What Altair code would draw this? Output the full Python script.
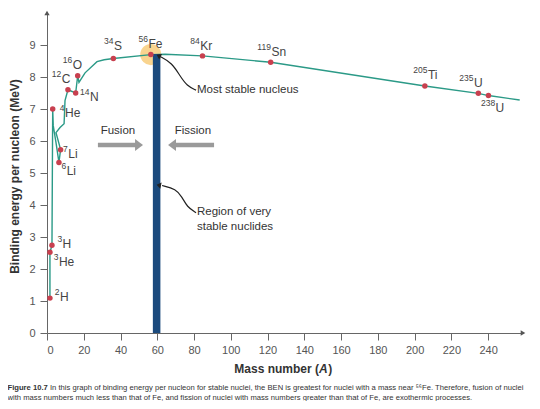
import altair as alt
import pandas as pd

FONT = "Liberation Sans"

# ---- data ----
curve_mass = [1.6, 1.6, 2.7, 3.1, 3.4, 4.9, 6.5, 7.4, 4.9, 7.1, 9.3, 9.8, 11.4, 15.6, 16.7, 17.4,
              20.7, 27.2, 31.1, 36.1, 56.5, 64.3, 84.6, 121.7, 205.6, 234.7, 240.2, 257.2]
curve_ben = [1.09, 2.52, 2.74, 7.00, 6.48, 5.95, 5.33, 5.73, 6.26, 6.42, 6.54, 7.26, 7.60, 7.50, 8.04, 7.83,
             8.13, 8.48, 8.54, 8.58, 8.70, 8.71, 8.66, 8.46, 7.72, 7.49, 7.42, 7.28]

nuc_sup = ["2", "3", "3", "4", "6", "7", "12", "14", "16", "34", "56", "84", "119", "205", "235", "238"]
nuc_el = ["H", "He", "H", "He", "Li", "Li", "C", "N", "O", "S", "Fe", "Kr", "Sn", "Ti", "U", "U"]
nuc_mass = [1.6, 1.6, 2.7, 3.1, 6.5, 7.4, 11.4, 15.6, 16.7, 36.1, 56.5, 84.6, 121.7, 205.6, 234.7, 240.2]
nuc_ben = [1.09, 2.52, 2.74, 7.00, 5.33, 5.73, 7.60, 7.50, 8.04, 8.58, 8.70, 8.66, 8.46, 7.72, 7.49, 7.42]

# label anchors (left edge of element symbol), in data units
lab_x = [7.1, 6.5, 8.5, 9.8, 10.7, 11.6, 8.0, 23.4, 14.0, 36.5, 55.2, 83.4, 122.1, 207.3, 232.3, 244.1]
lab_y = [1.12, 2.21, 2.77, 6.86, 5.05, 5.58, 7.95, 7.36, 8.39, 8.98, 9.04, 8.98, 8.79, 8.07, 7.82, 7.04]

region_lo, region_hi, region_top = 57.6, 61.7, 8.72
fe_mass, fe_ben = 56.5, 8.70

x_ticks = list(range(0, 241, 20))
y_ticks = list(range(0, 10))

# annotation arrows (data units)
stable_x = [81.1, 76.2, 72.4, 68.0, 61.5]
stable_y = [7.59, 7.72, 8.03, 8.44, 8.64]
region_x = [81.1, 76.2, 73.5, 70.2, 62.6]
region_y = [3.76, 3.94, 4.25, 4.50, 4.61]

XMAX, YMAX = 259, 10

xs = alt.Scale(domain=[0, XMAX], nice=False, zero=False)
ys = alt.Scale(domain=[0, YMAX], nice=False, zero=False)

curve = pd.DataFrame({"m": curve_mass, "b": curve_ben, "i": range(len(curve_mass))})
nuc = pd.DataFrame({"m": nuc_mass, "b": nuc_ben, "sup": nuc_sup, "el": nuc_el,
                    "lx": lab_x, "ly": lab_y})

AX_X = alt.Axis(values=x_ticks, title=None, grid=False, labelOverlap=False)
AX_Y = alt.Axis(values=y_ticks, title="Binding energy per nucleon (MeV)", grid=False,
                labelOverlap=False, titleX=-33, titleY=163, titleBaseline="middle", titleAngle=-90)


def X(f):
    return alt.X(f, scale=xs, axis=AX_X)


def Y(f):
    return alt.Y(f, scale=ys, axis=AX_Y)


glow = alt.Chart(pd.DataFrame({"m": [fe_mass], "b": [fe_ben]})).mark_circle(
    size=450, color="#f7c56a", opacity=0.75).encode(x=X("m:Q"), y=Y("b:Q"))

line = alt.Chart(curve).mark_line(color="#2b9a87", strokeWidth=1.4).encode(
    x=X("m:Q"), y=Y("b:Q"), order="i:Q")

bar = alt.Chart(pd.DataFrame({"lo": [region_lo], "hi": [region_hi], "top": [region_top]})).mark_rect(
    color="#1b4a7d").encode(x=X("lo:Q"), x2="hi:Q", y=Y("top:Q"), y2=alt.datum(0))

dots = alt.Chart(nuc).mark_circle(size=30, color="#c8404f", opacity=1).encode(x=X("m:Q"), y=Y("b:Q"))

el_text = alt.Chart(nuc).mark_text(align="left", baseline="middle", fontSize=12, font=FONT,
                                   color="#444444").encode(x=X("lx:Q"), y=Y("ly:Q"), text="el:N")
sup_text = alt.Chart(nuc).mark_text(align="right", baseline="middle", fontSize=8.5, font=FONT,
                                    color="#444444", dy=-5, dx=-0.5).encode(
    x=X("lx:Q"), y=Y("ly:Q"), text="sup:N")

# axis arrowheads
ax_arrows = alt.Chart(pd.DataFrame({"m": [XMAX, 0], "b": [0, YMAX],
                                    "s": ["triangle-right", "triangle-up"]})).mark_point(
    filled=True, size=28, color="#555555", opacity=1).encode(
    x=X("m:Q"), y=Y("b:Q"), shape=alt.Shape("s:N", scale=None))

# annotation curves
ann_df = pd.DataFrame({"m": stable_x + region_x, "b": stable_y + region_y,
                       "g": ["s"] * 5 + ["r"] * 5, "i": list(range(5)) * 2})
ann_lines = alt.Chart(ann_df).mark_line(color="#222222", strokeWidth=1.2, interpolate="basis").encode(
    x=X("m:Q"), y=Y("b:Q"), detail="g:N", order="i:Q")
heads = alt.Chart(pd.DataFrame({"m": [60.9, 61.0], "b": [8.66, 4.62], "a": [28, 12]})).mark_point(
    shape="M0.6,-1L-0.8,0L0.6,1Z", filled=True, size=40, color="#222222", opacity=1).encode(
    x=X("m:Q"), y=Y("b:Q"), angle=alt.Angle("a:Q", scale=None))

ann_left = alt.Chart(pd.DataFrame({
    "m": [81.6, 81.6, 81.6], "b": [7.59, 3.78, 3.31],
    "t": ["Most stable nucleus", "Region of very", "stable nuclides"]})).mark_text(
    align="left", baseline="middle", fontSize=11.5, font=FONT, color="#333333").encode(
    x=X("m:Q"), y=Y("b:Q"), text="t:N")
ann_center = alt.Chart(pd.DataFrame({
    "m": [38.6, 79.4], "b": [6.30, 6.30], "t": ["Fusion", "Fission"]})).mark_text(
    align="center", baseline="middle", fontSize=11.5, font=FONT, color="#333333").encode(
    x=X("m:Q"), y=Y("b:Q"), text="t:N")

# fusion / fission arrows
shaft_df = pd.DataFrame({"a": [27.7, 69.6], "c": [49.0, 90.9], "b": [5.875, 5.875]})
shafts = alt.Chart(shaft_df).mark_rule(color="#9a9a9a", strokeWidth=4.5).encode(
    x=X("a:Q"), x2="c:Q", y=Y("b:Q"))
big_heads = alt.Chart(pd.DataFrame({"m": [49.9, 68.2], "b": [5.875, 5.875], "a": [0, 180]})).mark_point(
    shape="M-0.6,-1L0.7,0L-0.6,1Z", filled=True, size=150, color="#9a9a9a", opacity=1).encode(
    x=X("m:Q"), y=Y("b:Q"), angle=alt.Angle("a:Q", scale=None))

# x-axis title with italic A
xt1 = alt.Chart(pd.DataFrame({"t": ["Mass number ("]})).mark_text(
    align="right", baseline="middle", fontSize=12, font=FONT, fontWeight="bold", color="#333333").encode(
    x=alt.value(272), y=alt.value(356), text="t:N")
xt2 = alt.Chart(pd.DataFrame({"t": ["A"]})).mark_text(
    align="left", baseline="middle", fontSize=12, font=FONT, fontWeight="bold", fontStyle="italic",
    color="#333333").encode(x=alt.value(272), y=alt.value(356), text="t:N")
xt3 = alt.Chart(pd.DataFrame({"t": [")"]})).mark_text(
    align="left", baseline="middle", fontSize=12, font=FONT, fontWeight="bold", color="#333333").encode(
    x=alt.value(281.2), y=alt.value(356), text="t:N")

# caption
CAP = 7.65
cap_bold = alt.Chart(pd.DataFrame({"t": ["Figure 10.7"]})).mark_text(
    align="left", baseline="middle", fontSize=CAP, font=FONT, color="#333333", fontWeight="bold").encode(
    x=alt.value(-39.5), y=alt.value(374.5), text="t:N")
cap_rest = alt.Chart(pd.DataFrame({
    "px": [3, -39.5], "py": [374.5, 384.5],
    "t": ["In this graph of binding energy per nucleon for stable nuclei, the BEN is greatest for nuclei with a mass near \u2075\u2076Fe. Therefore, fusion of nuclei",
          "with mass numbers much less than that of Fe, and fission of nuclei with mass numbers greater than that of Fe, are exothermic processes."]})).mark_text(
    align="left", baseline="middle", fontSize=CAP, font=FONT, color="#333333").encode(
    x=alt.X("px:Q", scale=None, axis=None), y=alt.Y("py:Q", scale=None, axis=None), text="t:N")

chart = alt.layer(glow, line, bar, dots, el_text, sup_text, ax_arrows, ann_lines, heads,
                  ann_left, ann_center, shafts, big_heads, xt1, xt2, xt3, cap_bold, cap_rest).properties(
    width=476, height=320,
    autosize=alt.AutoSizeParams(type="none"),
    padding={"left": 39, "top": 5, "right": 9, "bottom": 68},
).configure_view(stroke=None).configure_axis(
    domainColor="#666666", tickColor="#666666", labelColor="#555555", labelFont=FONT, titleFont=FONT,
    labelFontSize=11, titleFontSize=12, titleFontWeight="bold", titleColor="#333333",
    tickSize=7, labelPadding=4, domainWidth=1, tickWidth=1, labelOverlap=False
).configure_axisY(labelPadding=5)

chart.save("out.html", embed_options={"renderer": "svg", "actions": False})
